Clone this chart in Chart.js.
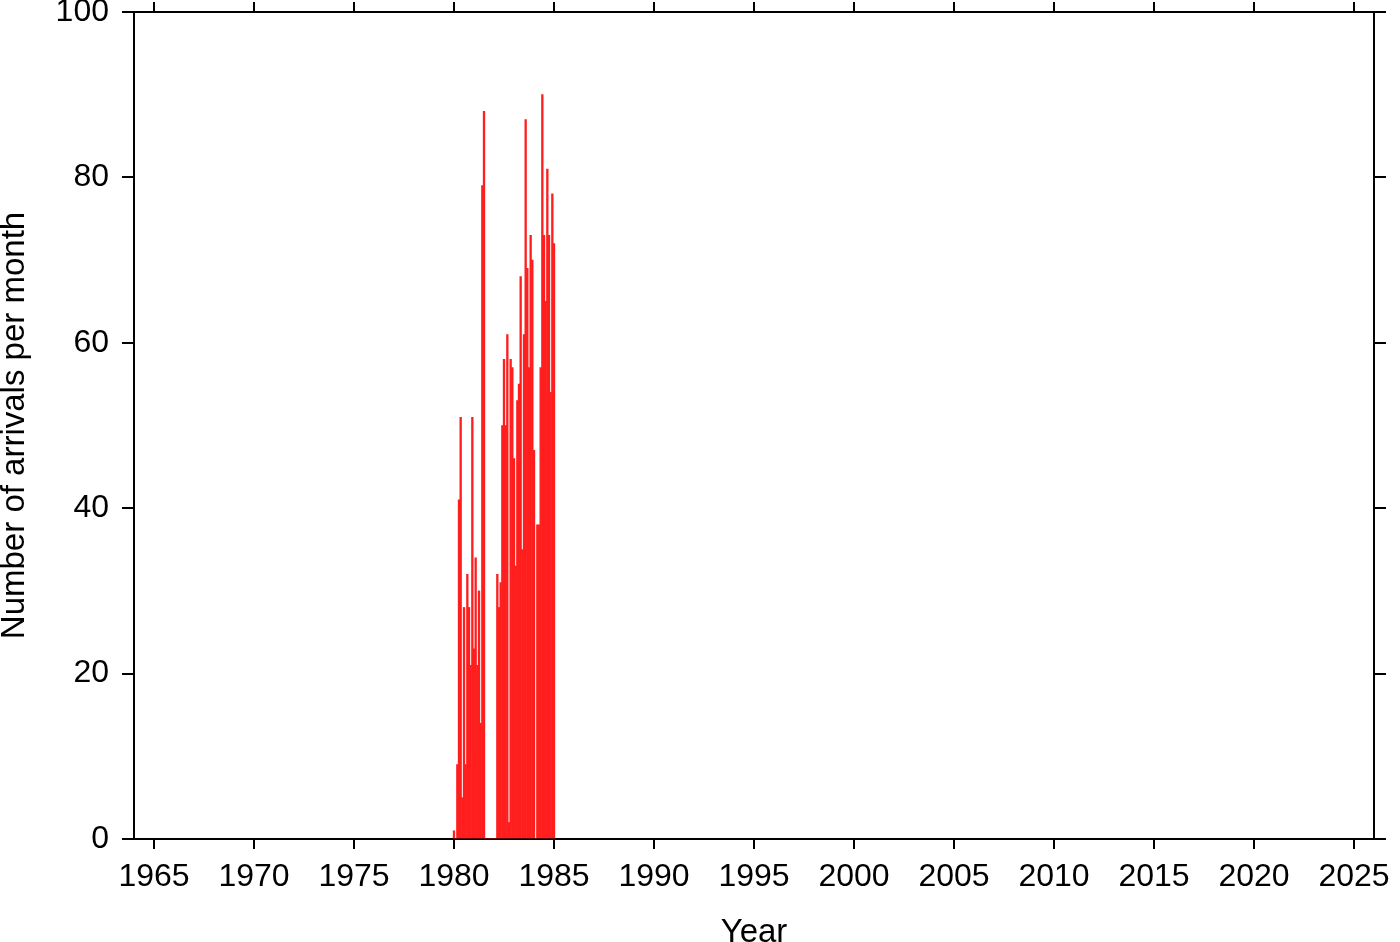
<!DOCTYPE html>
<html>
<head>
<meta charset="utf-8">
<title>Number of arrivals per month</title>
<script src="https://cdn.jsdelivr.net/npm/chart.js@4.4.1/dist/chart.umd.min.js"></script>
<style>
  html, body { margin: 0; padding: 0; background: #fff; }
  canvas { display: block; }
</style>
</head>
<body>
<canvas id="arrivals" width="1400" height="942"></canvas>
<script>
// monthly arrival counts, Jan..Dec of each year
const years = [1980, 1981, 1982, 1983, 1984, 1985];
const counts1980 = [1, 0, 9, 41, 51, 5, 28, 9, 32, 28, 21, 51];
const counts1981 = [23, 34, 21, 30, 14, 79, 88, 0, 0, 0, 0, 0];
const counts1982 = [0, 0, 32, 28, 31, 50, 58, 50, 61, 2, 58, 57];
const counts1983 = [46, 33, 53, 55, 68, 35, 61, 87, 69, 57, 73, 70];
const counts1984 = [47, 0, 38, 38, 57, 90, 73, 65, 81, 73, 54, 78];
const counts1985 = [72];
const monthlyCounts = [counts1980, counts1981, counts1982, counts1983, counts1984, counts1985];

const yearTicks = [1965, 1970, 1975, 1980, 1985, 1990, 1995, 2000, 2005, 2010, 2015, 2020, 2025];
const countTicks = [0, 20, 40, 60, 80, 100];

const points = [];
years.forEach((year, i) => {
  monthlyCounts[i].forEach((n, m) => points.push({ x: year + m / 12, y: n }));
});

Chart.defaults.font.family = '"Liberation Sans", Arial, Helvetica, sans-serif';
Chart.defaults.color = '#000';

const frameGrid = (len) => ({
  drawOnChartArea: false, drawTicks: true, tickLength: len,
  color: '#000', lineWidth: 2, offset: false
});
const frameBorder = { display: true, color: '#000', width: 2 };
const setYearTicks = (s) => { s.ticks = yearTicks.map(v => ({ value: v })); };
const setCountTicks = (s) => { s.ticks = countTicks.map(v => ({ value: v })); };

new Chart(document.getElementById('arrivals'), {
  type: 'bar',
  data: {
    datasets: [{
      data: points,
      backgroundColor: '#ff1e1e',
      borderWidth: 0,
      barPercentage: 1,
      categoryPercentage: 1,
      xAxisID: 'x',
      yAxisID: 'y'
    }]
  },
  options: {
    responsive: false,
    animation: false,
    layout: { padding: 0 },
    plugins: { legend: { display: false }, tooltip: { enabled: false } },
    scales: {
      x: {
        type: 'linear', position: 'bottom', min: 1964, max: 2026, offset: false,
        afterBuildTicks: setYearTicks,
        ticks: { padding: 9, font: { size: 32 }, maxRotation: 0, autoSkip: false, callback: v => String(v) },
        grid: frameGrid(10),
        border: frameBorder,
        title: { display: true, text: 'Year', font: { size: 33, lineHeight: 1 }, padding: { top: 0, bottom: -7 } },
        afterFit: s => { s.height = 103; s.paddingLeft = 0; s.paddingRight = 0; }
      },
      x2: {
        type: 'linear', position: 'top', min: 1964, max: 2026, offset: false,
        afterBuildTicks: setYearTicks,
        ticks: { display: false },
        grid: frameGrid(10),
        border: frameBorder,
        afterFit: s => { s.height = 12; s.paddingLeft = 0; s.paddingRight = 0; }
      },
      y: {
        type: 'linear', position: 'left', min: 0, max: 100,
        afterBuildTicks: setCountTicks,
        ticks: { padding: 13, font: { size: 32 } },
        grid: frameGrid(12),
        border: frameBorder,
        title: { display: true, text: 'Number of arrivals per month', font: { size: 33, lineHeight: 1 }, padding: { top: -2, bottom: 0 } },
        afterFit: s => { s.width = 134; s.paddingTop = 0; s.paddingBottom = 0; }
      },
      y2: {
        type: 'linear', position: 'right', min: 0, max: 100,
        afterBuildTicks: setCountTicks,
        ticks: { display: false },
        grid: frameGrid(12),
        border: frameBorder,
        afterFit: s => { s.width = 26; s.paddingTop = 0; s.paddingBottom = 0; }
      }
    }
  }
});
</script>
</body>
</html>
